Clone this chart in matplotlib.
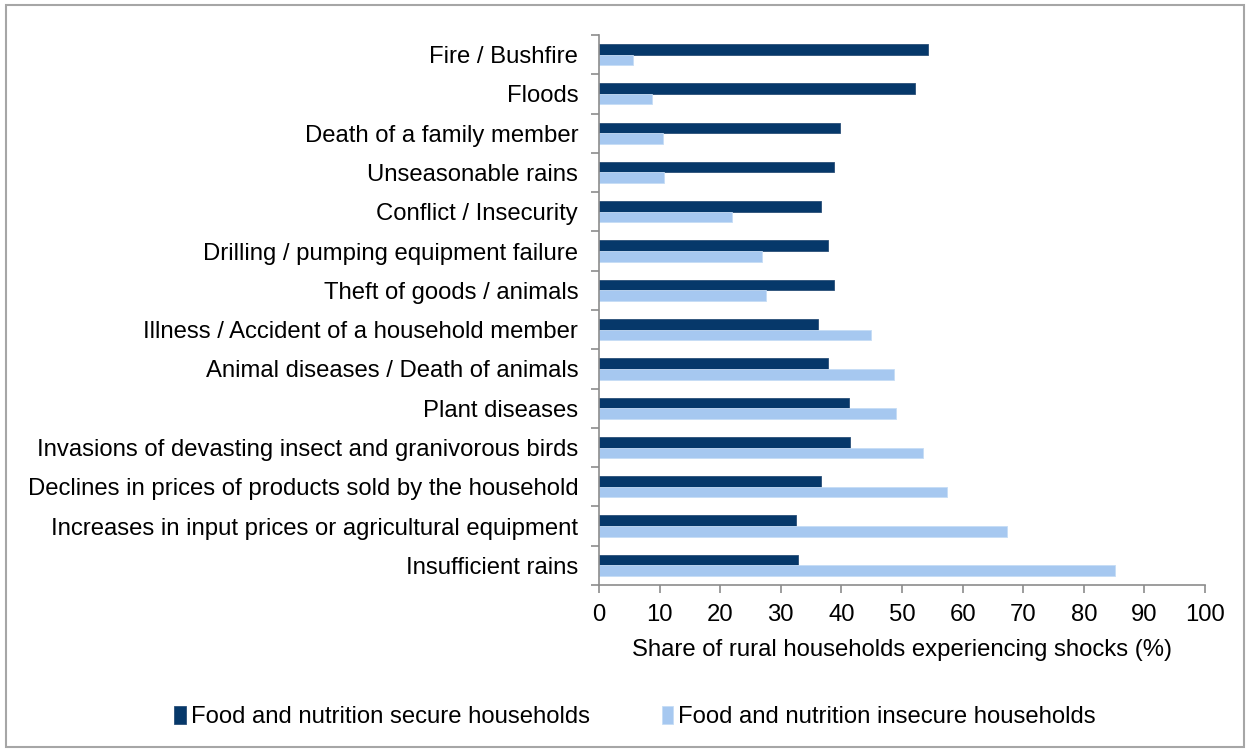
import numpy as np
import matplotlib.pyplot as plt
from matplotlib.patches import Rectangle

plt.rcParams['font.family'] = ['Liberation Sans', 'DejaVu Sans']

# categories listed bottom to top
categories = [
    "Insufficient rains",
    "Increases in input prices or agricultural equipment",
    "Declines in prices of products sold by the household",
    "Invasions of devasting insect and granivorous birds",
    "Plant diseases",
    "Animal diseases / Death of animals",
    "Illness / Accident of a household member",
    "Theft of goods / animals",
    "Drilling / pumping equipment failure",
    "Conflict / Insecurity",
    "Unseasonable rains",
    "Death of a family member",
    "Floods",
    "Fire / Bushfire",
]
secure = [32.9, 32.5, 36.7, 41.5, 41.3, 37.8, 36.2, 38.8, 37.8, 36.7, 38.8, 39.8, 52.1, 54.3]
insecure = [85.1, 67.3, 57.4, 53.5, 49.0, 48.7, 44.9, 27.6, 26.9, 22.0, 10.8, 10.6, 8.7, 5.6]
xticks = list(range(0, 101, 10))

dark = "#06386a"
light = "#a6c8f0"
spine = "#8c8c8c"
fs = 17.2

fig = plt.figure(figsize=(12.5, 7.51), dpi=100)
ax = fig.add_axes([0.4792, 0.221, 0.4848, 0.7325])

y = np.arange(len(categories))
h = 0.27
ax.barh(y + h / 2, secure, height=h, color=dark, edgecolor="#2a4f78", linewidth=0.6,
        label="Food and nutrition secure households")
ax.barh(y - h / 2, insecure, height=h, color=light, edgecolor="#c5dcf5", linewidth=0.6,
        label="Food and nutrition insecure households")

ax.set_xlim(0, 100)
ax.set_ylim(-0.5, len(categories) - 0.5)
ax.set_xticks(xticks)
ax.set_xticklabels([str(t) for t in xticks], fontsize=fs)
ax.set_yticks(y)
ax.set_yticklabels(categories, fontsize=fs)
ax.set_yticks(np.arange(-0.5, len(categories), 1), minor=True)
ax.tick_params(axis="y", which="major", length=0, pad=15)
ax.tick_params(axis="y", which="minor", length=6, color=spine, width=1.2, direction="out")
ax.tick_params(axis="x", length=6, color=spine, width=1.2, direction="out", pad=8)
ax.set_xlabel("Share of rural households experiencing shocks (%)", fontsize=fs, labelpad=9)

for s in ["top", "right"]:
    ax.spines[s].set_visible(False)
for s in ["left", "bottom"]:
    ax.spines[s].set_color(spine)
    ax.spines[s].set_linewidth(1.2)

fig.legend(loc="center", bbox_to_anchor=(0.508, 0.045), ncol=2, frameon=False,
           fontsize=fs, handlelength=0.5, handleheight=0.75, handletextpad=0.2,
           columnspacing=3.0)

fig.patches.append(Rectangle((0.005, 0.005), 0.99, 0.988, transform=fig.transFigure,
                             fill=False, edgecolor="#a6a6a6", linewidth=1.5))

fig.savefig("out.png", dpi=100)
